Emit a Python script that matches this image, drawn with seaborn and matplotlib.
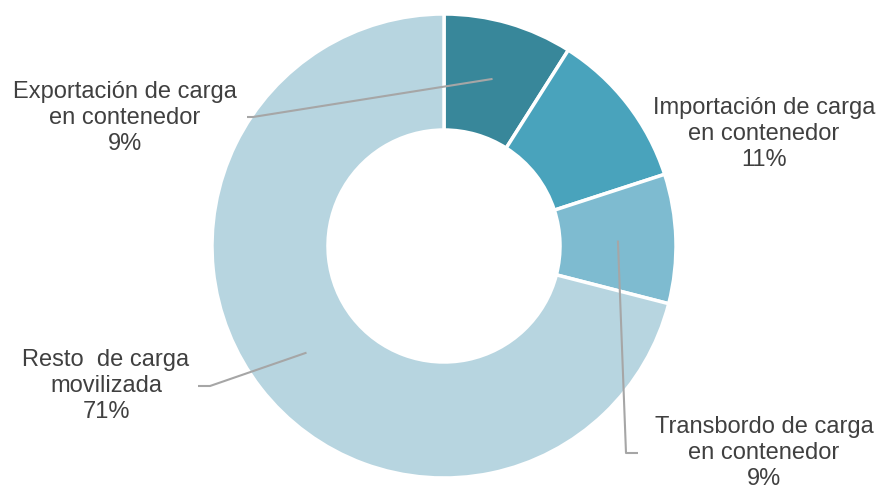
import numpy as np
import matplotlib
matplotlib.use("Agg")
import matplotlib.pyplot as plt
import seaborn as sns

# datos
categorias = ["Exportación de carga\nen contenedor",
              "Importación de carga\nen contenedor",
              "Transbordo de carga\nen contenedor",
              "Resto  de carga\nmovilizada"]
porcentajes = [9, 11, 9, 71]
colores = ["#38879A", "#49A3BC", "#7EBBD0", "#B7D5E0"]

sns.set_theme(style="white")
plt.rcParams['font.family'] = ['Liberation Sans', 'DejaVu Sans']

fig = plt.figure(figsize=(8.79, 4.93), dpi=100)
ax = fig.add_axes([0, 0, 1, 1])

R = 232.0  # radio en px
cx, cy = 444, 246

def px(x, y):
    return (x - cx) / R, (cy - y) / R

wedges, _ = ax.pie(porcentajes, colors=colores, startangle=90, counterclock=False,
                   radius=1, wedgeprops=dict(width=0.5, edgecolor="white", linewidth=2.5))

ax.set_xlim(-cx / R, (879 - cx) / R)
ax.set_ylim(-(493 - cy) / R, cy / R)
ax.set_aspect("equal")
ax.axis("off")

# posiciones de etiquetas (centro del texto) y codos de las lineas guia
pos_texto = [px(125, 118), px(764, 134), px(764, 453), px(106, 386)]
codos = [[px(253, 117), px(247, 117)],
         None,
         [px(626, 453), px(638, 453)],
         [px(210, 386), px(198, 386)]]

for w, cat, p, pos, codo in zip(wedges, categorias, porcentajes, pos_texto, codos):
    ax.text(pos[0], pos[1], f"{cat}\n{p}%", ha="center", va="center",
            fontsize=17, color="#404040", linespacing=1.26)
    if codo is not None:
        ang = np.deg2rad((w.theta1 + w.theta2) / 2)
        x0, y0 = 0.75 * np.cos(ang), 0.75 * np.sin(ang)
        xs = [x0] + [c[0] for c in codo]
        ys = [y0] + [c[1] for c in codo]
        ax.plot(xs, ys, color="#A6A6A6", lw=1.5, solid_capstyle="butt")

fig.savefig("out.png", dpi=100)
